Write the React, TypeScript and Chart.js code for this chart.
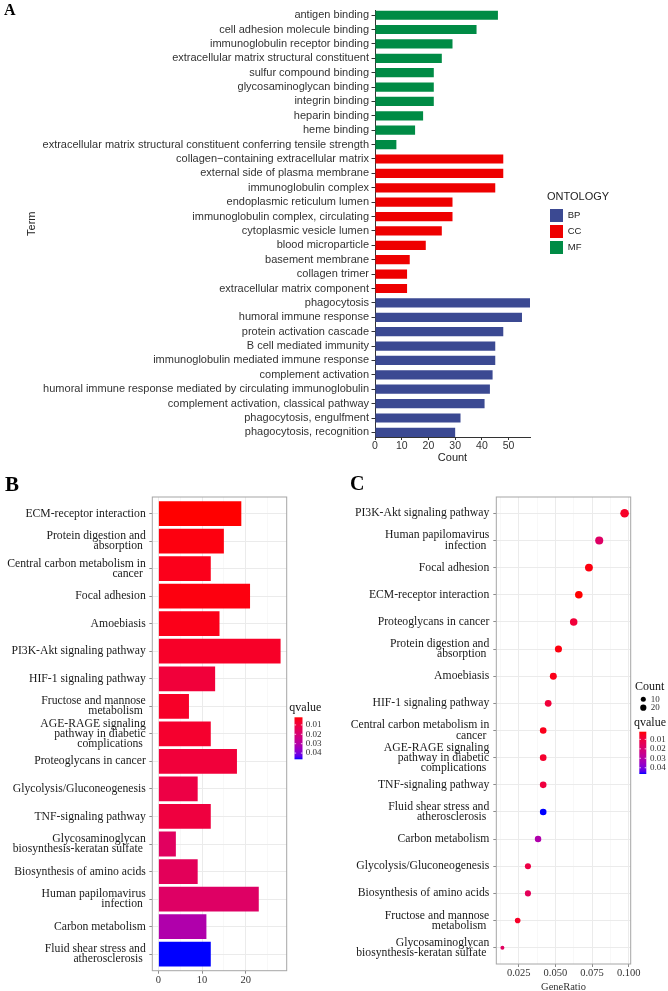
import React, { useEffect, useRef } from 'react';
import { Chart, registerables } from 'chart.js';

Chart.register(...registerables);

const SANS = '"Liberation Sans", Arial, Helvetica, sans-serif';
const SERIF = '"Liberation Serif", "Times New Roman", Times, serif';

// ---------------- Panel A: GO terms ----------------
const termsA = [
  'antigen binding',
  'cell adhesion molecule binding',
  'immunoglobulin receptor binding',
  'extracellular matrix structural constituent',
  'sulfur compound binding',
  'glycosaminoglycan binding',
  'integrin binding',
  'heparin binding',
  'heme binding',
  'extracellular matrix structural constituent conferring tensile strength',
  'collagen\u2212containing extracellular matrix',
  'external side of plasma membrane',
  'immunoglobulin complex',
  'endoplasmic reticulum lumen',
  'immunoglobulin complex, circulating',
  'cytoplasmic vesicle lumen',
  'blood microparticle',
  'basement membrane',
  'collagen trimer',
  'extracellular matrix component',
  'phagocytosis',
  'humoral immune response',
  'protein activation cascade',
  'B cell mediated immunity',
  'immunoglobulin mediated immune response',
  'complement activation',
  'humoral immune response mediated by circulating immunoglobulin',
  'complement activation, classical pathway',
  'phagocytosis, engulfment',
  'phagocytosis, recognition',
];
const countsA = [46, 38, 29, 25, 22, 22, 22, 18, 15, 8, 48, 48, 45, 29, 29, 25, 19, 13, 12, 12, 58, 55, 48, 45, 45, 44, 43, 41, 32, 30];
const ontologyA = [
  'MF', 'MF', 'MF', 'MF', 'MF', 'MF', 'MF', 'MF', 'MF', 'MF',
  'CC', 'CC', 'CC', 'CC', 'CC', 'CC', 'CC', 'CC', 'CC', 'CC',
  'BP', 'BP', 'BP', 'BP', 'BP', 'BP', 'BP', 'BP', 'BP', 'BP',
];
const ontologyLevels = ['BP', 'CC', 'MF'];
const ontologyColors = ['#3B4992', '#EE0000', '#008B45'];

// ---------------- Panel B: KEGG bar ----------------
const pathwaysB: (string | string[])[] = [
  'ECM-receptor interaction',
  ['Protein digestion and', 'absorption '],
  ['Central carbon metabolism in', 'cancer '],
  'Focal adhesion',
  'Amoebiasis',
  'PI3K-Akt signaling pathway',
  'HIF-1 signaling pathway',
  ['Fructose and mannose', 'metabolism '],
  ['AGE-RAGE signaling', 'pathway in diabetic', 'complications '],
  'Proteoglycans in cancer',
  'Glycolysis/Gluconeogenesis',
  'TNF-signaling pathway',
  ['Glycosaminoglycan', 'biosynthesis-keratan sulfate '],
  'Biosynthesis of amino acids',
  ['Human papilomavirus', 'infection '],
  'Carbon metabolism',
  ['Fluid shear stress and', 'atherosclerosis '],
];
const countsB = [19, 15, 12, 21, 14, 28, 13, 7, 12, 18, 9, 12, 4, 9, 23, 11, 12];
const qvaluesB = [0.0019, 0.003, 0.0042, 0.003, 0.004, 0.006, 0.009, 0.006, 0.007, 0.009, 0.011, 0.01, 0.016, 0.015, 0.017, 0.031, 0.0466];

// ---------------- Panel C: KEGG dot ----------------
const pathwaysC: (string | string[])[] = [
  'PI3K-Akt signaling pathway',
  ['Human papilomavirus', 'infection '],
  'Focal adhesion',
  'ECM-receptor interaction',
  'Proteoglycans in cancer',
  ['Protein digestion and', 'absorption '],
  'Amoebiasis',
  'HIF-1 signaling pathway',
  ['Central carbon metabolism in', 'cancer '],
  ['AGE-RAGE signaling', 'pathway in diabetic', 'complications '],
  'TNF-signaling pathway',
  ['Fluid shear stress and', 'atherosclerosis '],
  'Carbon metabolism',
  'Glycolysis/Gluconeogenesis',
  'Biosynthesis of amino acids',
  ['Fructose and mannose', 'metabolism '],
  ['Glycosaminoglycan', 'biosynthesis-keratan sulfate '],
];
const geneRatioC = [0.0972, 0.0799, 0.0729, 0.066, 0.0625, 0.0521, 0.0486, 0.0451, 0.0417, 0.0417, 0.0417, 0.0417, 0.0382, 0.0313, 0.0313, 0.0243, 0.0139];
const countsC = [28, 23, 21, 19, 18, 15, 14, 13, 12, 12, 12, 12, 11, 9, 9, 7, 4];
const qvaluesC = [0.006, 0.017, 0.003, 0.0019, 0.009, 0.003, 0.004, 0.009, 0.0042, 0.007, 0.01, 0.0466, 0.031, 0.011, 0.015, 0.006, 0.016];

const qLegendTicks = [0.01, 0.02, 0.03, 0.04];
const countLegendValues = [10, 20];

// ---------------- colour helpers (Lab interpolation red -> blue) ----------------
const WX = 0.95047, WY = 1, WZ = 1.08883;
const srgbToLin = (c: number) => { const v = c / 255; return v <= 0.04045 ? v / 12.92 : Math.pow((v + 0.055) / 1.055, 2.4); };
const linToSrgb = (v: number) => { const c = v <= 0.0031308 ? 12.92 * v : 1.055 * Math.pow(Math.max(v, 0), 1 / 2.4) - 0.055; return Math.round(Math.min(1, Math.max(0, c)) * 255); };
const fLab = (t: number) => (t > 216 / 24389 ? Math.cbrt(t) : ((24389 / 27) * t + 16) / 116);
const fInv = (t: number) => { const t3 = t * t * t; return t3 > 216 / 24389 ? t3 : (116 * t - 16) / (24389 / 27); };
function rgbToLab(rgb: number[]) {
  const [r, g, b] = rgb.map(srgbToLin);
  const X = 0.4124564 * r + 0.3575761 * g + 0.1804375 * b;
  const Y = 0.2126729 * r + 0.7151522 * g + 0.072175 * b;
  const Z = 0.0193339 * r + 0.119192 * g + 0.9503041 * b;
  const fx = fLab(X / WX), fy = fLab(Y / WY), fz = fLab(Z / WZ);
  return [116 * fy - 16, 500 * (fx - fy), 200 * (fy - fz)];
}
function labToRgb(lab: number[]) {
  const [L, a, b] = lab;
  const fy = (L + 16) / 116, fx = fy + a / 500, fz = fy - b / 200;
  const X = WX * fInv(fx), Y = WY * fInv(fy), Z = WZ * fInv(fz);
  const r = 3.2404542 * X - 1.5371385 * Y - 0.4985314 * Z;
  const g = -0.969266 * X + 1.8760108 * Y + 0.041556 * Z;
  const bb = 0.0556434 * X - 0.2040259 * Y + 1.0572252 * Z;
  return [linToSrgb(r), linToSrgb(g), linToSrgb(bb)];
}
const LAB_LOW = rgbToLab([255, 0, 0]);
const LAB_HIGH = rgbToLab([0, 0, 255]);
function rampColor(t: number) {
  const tt = Math.max(0, Math.min(1, t));
  const lab = LAB_LOW.map((v, i) => v + (LAB_HIGH[i] - v) * tt);
  const [r, g, b] = labToRgb(lab);
  return `rgb(${r},${g},${b})`;
}
const qColor = (q: number, lo: number, hi: number) => rampColor((q - lo) / (hi - lo));

// ---------------- plugins ----------------
function letterPlugin(text: string, x: number, y: number, size: number) {
  return {
    id: 'panelLetter',
    afterDraw(chart: any) {
      const ctx = chart.ctx;
      ctx.save();
      ctx.font = `bold ${size}px ${SERIF}`;
      ctx.fillStyle = '#000';
      ctx.textAlign = 'left';
      ctx.textBaseline = 'alphabetic';
      ctx.fillText(text, x, y);
      ctx.restore();
    },
  };
}

const borderPlugin = {
  id: 'panelBorder',
  afterDatasetsDraw(chart: any) {
    const { left, top, right, bottom } = chart.chartArea;
    const ctx = chart.ctx;
    ctx.save();
    ctx.strokeStyle = '#A6A6A6';
    ctx.lineWidth = 1;
    ctx.strokeRect(left, top, right - left, bottom - top);
    ctx.restore();
  },
};

function moveLegendPlugin(x: number, y: number, w: number, h: number) {
  return {
    id: 'moveLegend',
    beforeDraw(chart: any) {
      const lg = chart.legend;
      if (!lg) return;
      lg.left = x; lg.top = y; lg.right = x + w; lg.bottom = y + h;
    },
  };
}

function qLegendPlugin(p: { tx: number; ty: number; bx: number; by: number; bw: number; bh: number; lx: number }, qs: number[]) {
  const lo = Math.min(...qs), hi = Math.max(...qs);
  return {
    id: 'qLegend',
    afterDraw(chart: any) {
      const ctx = chart.ctx;
      ctx.save();
      ctx.font = `12px ${SERIF}`;
      ctx.fillStyle = '#111';
      ctx.textAlign = 'left';
      ctx.textBaseline = 'middle';
      ctx.fillText('qvalue', p.tx, p.ty);
      const grad = ctx.createLinearGradient(0, p.by, 0, p.by + p.bh);
      for (let k = 0; k <= 20; k++) grad.addColorStop(k / 20, rampColor(k / 20));
      ctx.fillStyle = grad;
      ctx.fillRect(p.bx, p.by, p.bw, p.bh);
      ctx.font = `9px ${SERIF}`;
      qLegendTicks.forEach((q) => {
        const y = p.by + ((q - lo) / (hi - lo)) * p.bh;
        ctx.strokeStyle = '#fff';
        ctx.lineWidth = 0.8;
        ctx.beginPath();
        ctx.moveTo(p.bx, y); ctx.lineTo(p.bx + 1.6, y);
        ctx.moveTo(p.bx + p.bw - 1.6, y); ctx.lineTo(p.bx + p.bw, y);
        ctx.stroke();
        ctx.fillStyle = '#333';
        ctx.fillText(q.toFixed(2), p.lx, y);
      });
      ctx.restore();
    },
  };
}

const cMin = Math.min(...countsC), cMax = Math.max(...countsC);
const dotRadius = (c: number) => 2 + 2.3 * Math.sqrt(Math.max(0, (c - cMin) / (cMax - cMin)));

function countLegendPlugin(p: { tx: number; ty: number; dx: number; ys: number[]; lx: number }) {
  return {
    id: 'countLegend',
    afterDraw(chart: any) {
      const ctx = chart.ctx;
      ctx.save();
      ctx.font = `12px ${SERIF}`;
      ctx.fillStyle = '#111';
      ctx.textAlign = 'left';
      ctx.textBaseline = 'middle';
      ctx.fillText('Count', p.tx, p.ty);
      ctx.font = `9px ${SERIF}`;
      countLegendValues.forEach((c, i) => {
        ctx.fillStyle = '#000';
        ctx.beginPath();
        ctx.arc(p.dx, p.ys[i], dotRadius(c) * 0.8, 0, Math.PI * 2);
        ctx.fill();
        ctx.fillStyle = '#333';
        ctx.fillText(String(c), p.lx, p.ys[i]);
      });
      ctx.restore();
    },
  };
}

const majorGrid = (isMajor: (v: number) => boolean) => ({
  color: (c: any) => (c.tick && isMajor(c.tick.value) ? '#EBEBEB' : '#F3F3F3'),
  lineWidth: (c: any) => (c.tick && isMajor(c.tick.value) ? 1 : 0.6),
  tickColor: (c: any) => (c.tick && isMajor(c.tick.value) ? '#8C8C8C' : 'rgba(0,0,0,0)'),
  tickLength: 3,
  drawTicks: true,
});

// ---------------- chart configs ----------------
function configA(): any {
  const maxA = Math.max(...countsA);
  const datasets = ontologyLevels.map((lvl, k) => ({
    label: lvl,
    data: countsA.map((v, i) => (ontologyA[i] === lvl ? v : null)),
    backgroundColor: ontologyColors[k],
    borderWidth: 0,
    categoryPercentage: 1,
    barPercentage: 0.64,
  }));
  const n = termsA.length;
  return {
    type: 'bar',
    data: { labels: termsA, datasets },
    options: {
      indexAxis: 'y',
      responsive: false,
      animation: false,
      layout: { padding: { left: 0, top: 10.5, right: 138, bottom: 0 } },
      scales: {
        x: {
          type: 'linear', stacked: true, min: 0, max: maxA,
          ticks: { stepSize: 10, includeBounds: false, font: { family: SANS, size: 10.5 }, color: '#333', padding: 0, maxRotation: 0 },
          grid: { display: true, drawOnChartArea: false, drawTicks: true, tickLength: 3, tickColor: '#333' },
          border: { display: true, color: '#333', width: 1 },
          title: { display: true, text: 'Count', font: { family: SANS, size: 11, lineHeight: 1 }, color: '#222', padding: { top: 0, bottom: 2.5 } },
          afterFit: (s: any) => { s.height = 29; },
        },
        y: {
          type: 'category', stacked: true,
          ticks: { autoSkip: false, font: { family: SANS, size: 11 }, color: '#333', padding: 2.5 },
          grid: { display: true, drawOnChartArea: false, offset: false, drawTicks: true, tickLength: 3.5, tickColor: '#333' },
          border: { display: true, color: '#333', width: 1 },
          title: { display: true, text: 'Term', font: { family: SANS, size: 11 }, color: '#222', padding: { top: 25.4, bottom: 0 } },
          afterBuildTicks: (s: any) => { s._startValue = -0.32; s._valueRange = n - 1 + 0.64; },
          afterFit: (s: any) => { s.width = 375; },
        },
      },
      plugins: {
        legend: {
          display: true, position: 'chartArea', align: 'start',
          labels: { boxWidth: 13, boxHeight: 13, padding: 3, font: { family: SANS, size: 9.5 }, color: '#222' },
          title: { display: true, text: 'ONTOLOGY', position: 'start', font: { family: SANS, size: 11 }, color: '#222', padding: { top: 0, bottom: 1 } },
        },
        tooltip: { enabled: false },
      },
    },
    plugins: [letterPlugin('A', 4, 15, 16), moveLegendPlugin(547, 191.8, 110, 80)],
  };
}

function configB(): any {
  const maxB = Math.max(...countsB);
  const pad = 0.05 * maxB;
  const lo = Math.min(...qvaluesB), hi = Math.max(...qvaluesB);
  const n = pathwaysB.length;
  return {
    type: 'bar',
    data: {
      labels: pathwaysB,
      datasets: [{
        data: countsB,
        backgroundColor: qvaluesB.map((q) => qColor(q, lo, hi)),
        borderWidth: 0,
        categoryPercentage: 1,
        barPercentage: 0.9,
      }],
    },
    options: {
      indexAxis: 'y',
      responsive: false,
      animation: false,
      layout: { padding: { left: 0, top: 27, right: 48.3, bottom: 0 } },
      scales: {
        x: {
          type: 'linear', min: -pad, max: maxB + pad,
          ticks: {
            stepSize: 5, includeBounds: false, autoSkip: false, maxRotation: 0,
            callback: (v: number) => (Math.abs(v % 10) < 1e-9 ? String(v) : ''),
            font: { family: SERIF, size: 10.5 }, color: '#333', padding: 0.4,
          },
          grid: majorGrid((v) => Math.abs(v % 10) < 1e-9),
          border: { display: false },
          afterFit: (s: any) => { s.height = 20.3; },
        },
        y: {
          type: 'category',
          ticks: { autoSkip: false, font: { family: SERIF, size: 11.7, lineHeight: 0.87 }, color: '#1a1a1a', padding: 3.5 },
          grid: { offset: false, color: '#EBEBEB', lineWidth: 1, drawTicks: true, tickLength: 3, tickColor: '#8C8C8C' },
          border: { display: false },
          afterBuildTicks: (s: any) => { s._startValue = -0.6; s._valueRange = n - 1 + 1.2; },
          afterFit: (s: any) => { s.width = 152.3; },
        },
      },
      plugins: { legend: { display: false }, tooltip: { enabled: false } },
    },
    plugins: [
      letterPlugin('B', 5, 20.7, 21),
      borderPlugin,
      qLegendPlugin({ tx: 289.3, ty: 237.5, bx: 294.5, by: 247.3, bw: 8, bh: 42, lx: 305.7 }, qvaluesB),
    ],
  };
}

function configC(): any {
  const gLo = Math.min(...geneRatioC), gHi = Math.max(...geneRatioC);
  const pad = 0.05 * (gHi - gLo);
  const lo = Math.min(...qvaluesC), hi = Math.max(...qvaluesC);
  const n = pathwaysC.length;
  const isMajor = (v: number) => Math.abs(v / 0.025 - Math.round(v / 0.025)) < 1e-6;
  return {
    type: 'scatter',
    data: {
      datasets: [{
        data: geneRatioC.map((g, i) => ({ x: g, y: i })),
        pointRadius: countsC.map((c) => dotRadius(c)),
        pointHoverRadius: countsC.map((c) => dotRadius(c)),
        pointBackgroundColor: qvaluesC.map((q) => qColor(q, lo, hi)),
        pointBorderWidth: 0,
        borderWidth: 0,
      }],
    },
    options: {
      responsive: false,
      animation: false,
      layout: { padding: { left: 0, top: 27, right: 37.3, bottom: 0 } },
      scales: {
        x: {
          type: 'linear', min: gLo - pad, max: gHi + pad,
          ticks: {
            stepSize: 0.0125, includeBounds: false, autoSkip: false, maxRotation: 0,
            callback: (v: number) => (isMajor(v) ? v.toFixed(3) : ''),
            font: { family: SERIF, size: 10.5 }, color: '#333', padding: 0,
          },
          grid: majorGrid(isMajor),
          border: { display: false },
          title: { display: true, text: 'GeneRatio', font: { family: SERIF, size: 10.5, lineHeight: 1 }, color: '#333', padding: { top: 0, bottom: -1 } },
          afterFit: (s: any) => { s.height = 27; },
        },
        y: {
          type: 'category', labels: pathwaysC, min: 0, max: n - 1,
          ticks: { autoSkip: false, font: { family: SERIF, size: 11.7, lineHeight: 0.87 }, color: '#1a1a1a', padding: 4 },
          grid: { offset: false, color: '#EBEBEB', lineWidth: 1, drawTicks: true, tickLength: 3, tickColor: '#8C8C8C' },
          border: { display: false },
          afterBuildTicks: (s: any) => { s._startValue = -0.6; s._valueRange = n - 1 + 1.2; },
          afterFit: (s: any) => { s.width = 156.3; },
        },
      },
      plugins: { legend: { display: false }, tooltip: { enabled: false } },
    },
    plugins: [
      letterPlugin('C', 10, 20, 20),
      borderPlugin,
      countLegendPlugin({ tx: 295, ty: 216.7, dx: 303.3, ys: [229.3, 237.7], lx: 310.7 }),
      qLegendPlugin({ tx: 294, ty: 252.7, bx: 299.3, by: 261.7, bw: 7, bh: 42.3, lx: 310 }, qvaluesC),
    ],
  };
}

function ChartCanvas({ make, left, top, width, height }: { make: () => any; left: number; top: number; width: number; height: number }) {
  const ref = useRef<HTMLCanvasElement | null>(null);
  useEffect(() => {
    if (!ref.current) return;
    const chart = new Chart(ref.current, make());
    return () => chart.destroy();
  }, [make]);
  return (
    <canvas
      ref={ref}
      width={width}
      height={height}
      style={{ position: 'absolute', left, top, width, height }}
    />
  );
}

export default function App() {
  return (
    <div style={{ position: 'absolute', left: 0, top: 0, width: 668, height: 991, background: '#fff', overflow: 'hidden' }}>
      <ChartCanvas make={configA} left={0} top={0} width={668} height={466} />
      <ChartCanvas make={configB} left={0} top={470} width={335} height={521} />
      <ChartCanvas make={configC} left={340} top={470} width={328} height={521} />
    </div>
  );
}
